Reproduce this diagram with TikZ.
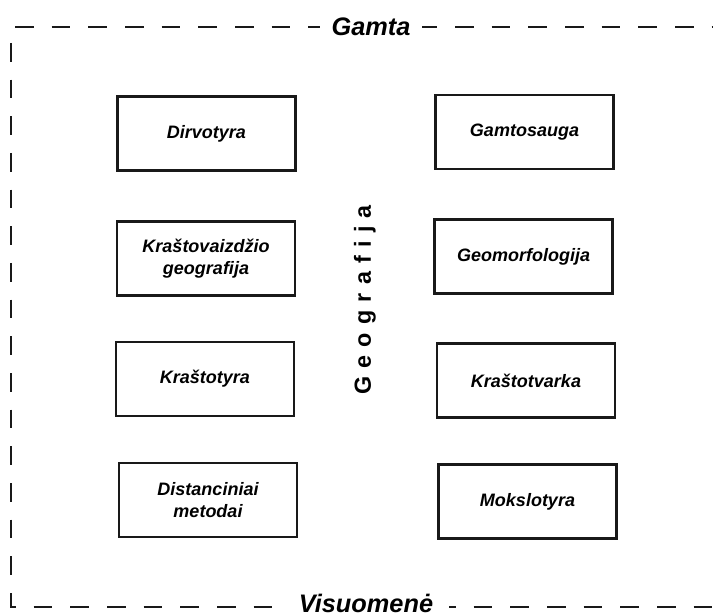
\documentclass[tikz,border=0pt]{standalone}
\usepackage{fontspec}
\setmainfont{Liberation Sans}

\begin{document}
\begin{tikzpicture}[x=0.75pt, y=-0.75pt,
  fieldbox/.style={draw=black!90, line width=1.8pt, minimum width=133.5pt, minimum height=55.5pt,
    align=center, font=\fontsize{13.5}{17}\selectfont\bfseries\itshape},
  framelabel/.style={fill=white, inner xsep=9pt, inner ysep=1pt, font=\fontsize{19}{22}\selectfont\bfseries\itshape}]
\useasboundingbox (0,0) rectangle (713,616);
% outer frame
\draw[black!90, line width=2pt, dash pattern=on 14pt off 13.5pt] (15,27) -- (713,27);
\draw[black!90, line width=2pt, dash pattern=on 14pt off 13.5pt] (11,43) -- (11,607) -- (713,607);
\node[framelabel] (gamta) at (371,27) {Gamta};
\node[framelabel, inner xsep=12pt] (visuomene) at (366,603) {Visuomenė};
% left column
\node[fieldbox] (dirvotyra) at (206.5,133.5) {Dirvotyra};
\node[fieldbox] (krastovaizdis) at (206,258.5) {Kraštovaizdžio\\geografija};
\node[fieldbox] (krastotyra) at (205,379) {Kraštotyra};
\node[fieldbox] (distanciniai) at (208,500) {Distanciniai\\metodai};
% right column
\node[fieldbox] (gamtosauga) at (524.5,132) {Gamtosauga};
\node[fieldbox] (geomorfologija) at (523.5,256.5) {Geomorfologija};
\node[fieldbox] (krastotvarka) at (526,380.5) {Kraštotvarka};
\node[fieldbox] (mokslotyra) at (527.5,501.5) {Mokslotyra};
% middle
\node[rotate=90, font=\fontsize{17.5}{20}\selectfont\bfseries] (geografija) at (365,300) {\spaceskip=6.2pt G e o g r a f i j a};
\end{tikzpicture}
\end{document}
